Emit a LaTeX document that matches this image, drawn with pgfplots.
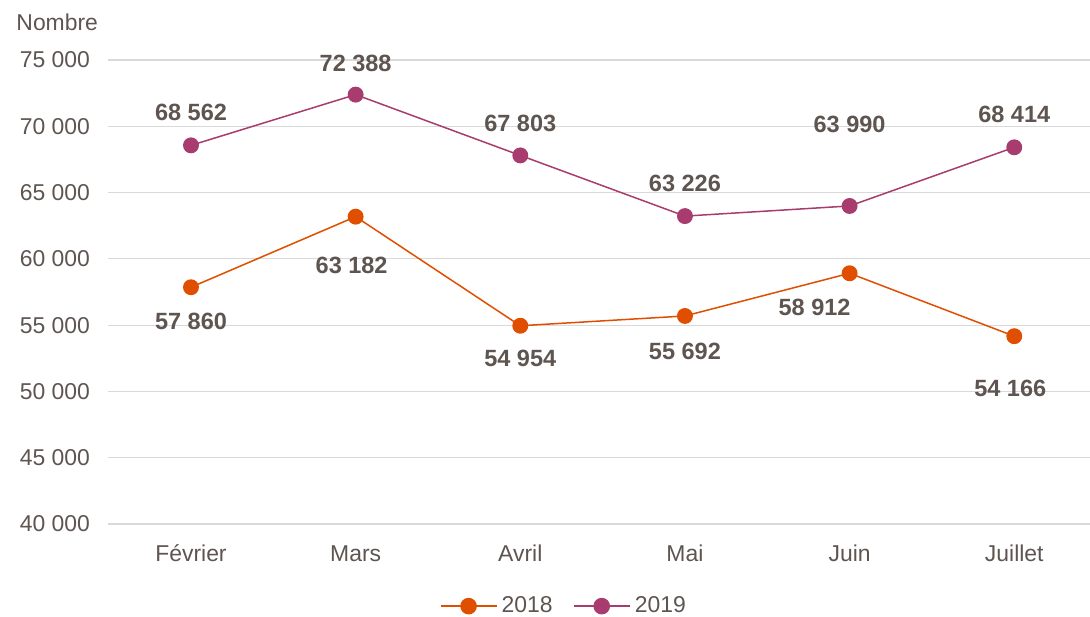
\documentclass[border=0pt]{standalone}
\usepackage{pgfplots}
\pgfplotsset{compat=1.18}
\usepackage{pgfplotstable}
\usepackage{fontspec}
\setmainfont{Liberation Sans}
\definecolor{cA}{HTML}{E04E00}
\definecolor{cB}{HTML}{A83C6E}
\definecolor{txt}{HTML}{5E5450}
\definecolor{grd}{HTML}{D9D9D9}
\pgfplotstableread{
x y dx dy
0 57860 0 -17
1 63182 -2 -24.5
2 54954 0 -16.5
3 55692 0 -17.5
4 58912 -17.5 -17
5 54166 -2 -26
}\tA
\pgfplotstableread{
x y dx dy
0 68562 0 16.5
1 72388 0 15.5
2 67803 0 16
3 63226 0 16.5
4 63990 0 41
5 68414 0 16.5
}\tB
\begin{document}
\begin{tikzpicture}
\useasboundingbox (-54bp,-46.5bp) rectangle (491bp,262bp);
\begin{axis}[
  at={(0,0)}, anchor=south west,
  scale only axis,
  width=491bp, height=232bp,
  xmin=-0.504, xmax=5.46,
  ymin=40000, ymax=75000,
  ytick={40000,45000,...,75000},
  scaled y ticks=false,
  xtick={0,...,5},
  xticklabels={Février,Mars,Avril,Mai,Juin,Juillet},
  axis line style={draw=none},
  major tick length=0pt,
  ymajorgrids,
  grid style={grd, line width=0.6bp},
  tick label style={font=\fontsize{11.5}{13}\selectfont, text=txt},
  /pgf/number format/assume math mode=true,
  yticklabel={\pgfmathprintnumber[1000 sep={\ }]{\tick}},
  yticklabel style={xshift=-5.5bp},
  xticklabel style={yshift=-6bp, text height=9bp, text depth=2.5bp},
  clip=false,
  legend style={draw=none, fill=none, at={(rel axis cs:0.465,-0.177)}, anchor=center,
    legend columns=2, font=\fontsize{11.5}{13}\selectfont, text=txt,
    /tikz/every even column/.append style={column sep=8bp}},
  legend image code/.code={
    \draw[mark repeat=2, mark phase=2, #1, line width=1.1bp] plot coordinates {(0bp,0bp) (14bp,0bp) (28bp,0bp)};
  },
  nodes near coords={\pgfmathprintnumber[1000 sep={\ }]{\pgfplotspointmeta}},
  nodes near coords style={font=\fontsize{11.8}{13}\selectfont\bfseries, text=txt, anchor=center,
    xshift=\dx bp, yshift=\dy bp},
  visualization depends on={\thisrow{dx} \as \dx},
  visualization depends on={\thisrow{dy} \as \dy},
]
\addplot[cA, line width=0.75bp, mark=*, mark size=3.6bp, mark options={fill=cA, draw=cA}] table[x=x,y=y] {\tA};
\addlegendentry{2018}
\addplot[cB, line width=0.75bp, mark=*, mark size=3.6bp, mark options={fill=cB, draw=cB}] table[x=x,y=y] {\tB};
\addlegendentry{2019}
\node[anchor=east, font=\fontsize{11.5}{13}\selectfont, text=txt] at ([xshift=-1.5bp, yshift=19bp]rel axis cs:0,1) {Nombre};
\end{axis}
\end{tikzpicture}
\end{document}
